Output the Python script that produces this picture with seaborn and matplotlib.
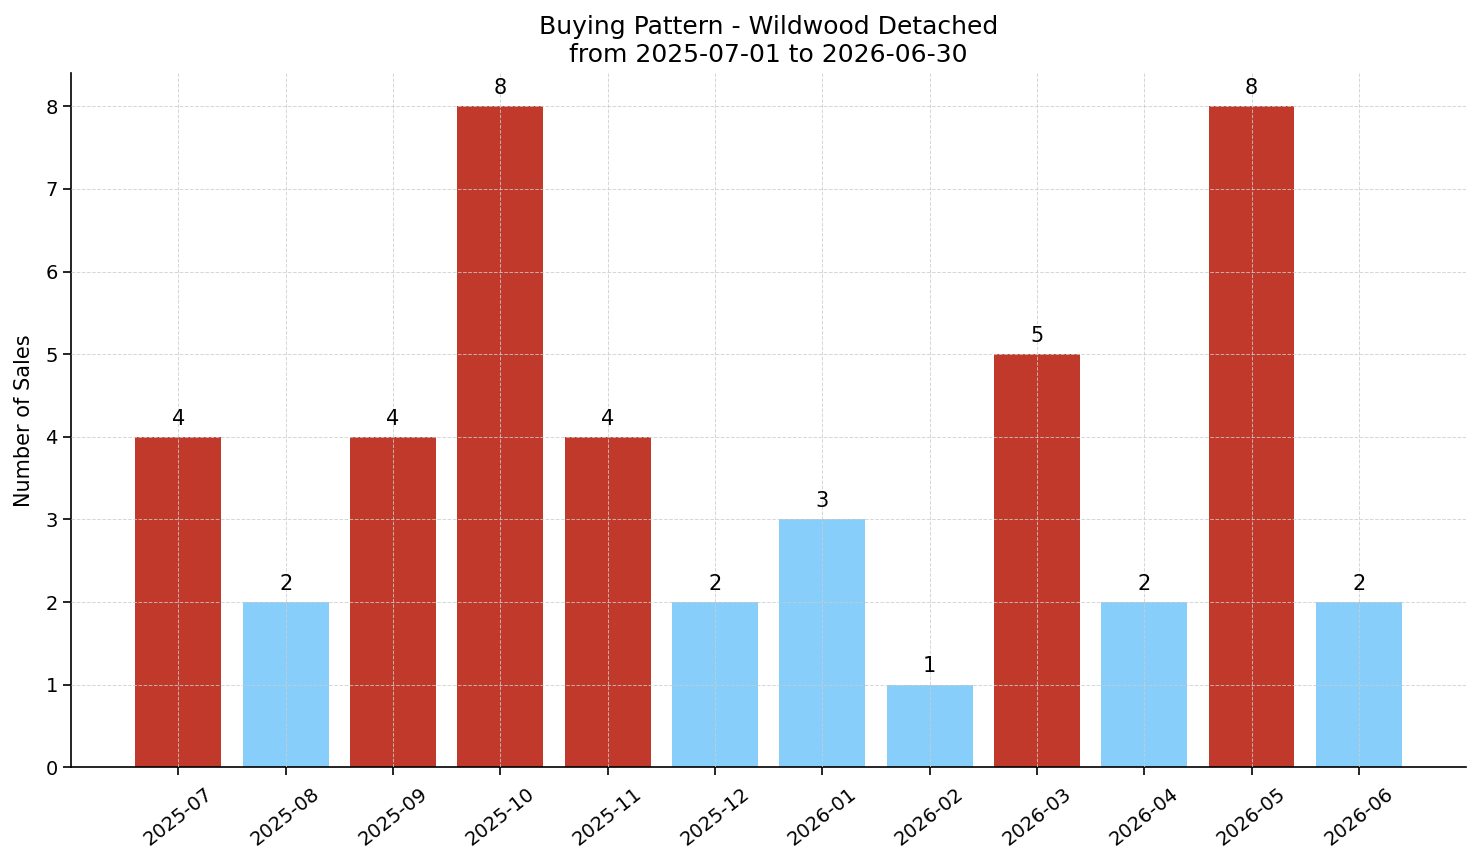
import matplotlib
matplotlib.use("Agg")
import matplotlib.pyplot as plt
import seaborn as sns
import pandas as pd

months = ["2025-07", "2025-08", "2025-09", "2025-10", "2025-11", "2025-12",
          "2026-01", "2026-02", "2026-03", "2026-04", "2026-05", "2026-06"]
sales = [4, 2, 4, 8, 4, 2, 3, 1, 5, 2, 8, 2]

sns.set_style("ticks")
plt.rcParams['font.family'] = ['DejaVu Sans']
plt.rcParams['text.color'] = 'black'
plt.rcParams['axes.labelcolor'] = 'black'
plt.rcParams['xtick.color'] = 'black'
plt.rcParams['ytick.color'] = 'black'
plt.rcParams['axes.edgecolor'] = 'black'

df = pd.DataFrame({"month": months, "sales": sales})
colors = ["#c0392b" if v >= 4 else "#87cefa" for v in sales]

fig, ax = plt.subplots(figsize=(14.81, 8.63), dpi=100)
fig.subplots_adjust(left=0.048, right=0.99, top=0.915, bottom=0.111)

sns.barplot(data=df, x="month", y="sales", hue="month", palette=colors,
            legend=False, width=0.8, saturation=1, linewidth=0, ax=ax)

for i, v in enumerate(sales):
    ax.text(i, v + 0.1, str(v), ha="center", va="bottom", fontsize=15, color="black")

ax.set_xlim(-1, 12)
ax.set_ylim(0, 8.4)
ax.grid(True, linestyle="--", color="#cccccc", alpha=0.8, linewidth=0.7)
ax.set_axisbelow(False)
ax.set_xlabel("")
ax.set_ylabel("Number of Sales", fontsize=15, labelpad=8)
ax.set_title("Buying Pattern - Wildwood Detached\nfrom 2025-07-01 to 2026-06-30",
             fontsize=18, color="black", pad=8)
ax.tick_params(axis="both", labelsize=14, length=6, width=1.2)
ax.tick_params(axis="x", pad=6)
plt.setp(ax.get_xticklabels(), rotation=38)
for s in ["left", "bottom"]:
    ax.spines[s].set_linewidth(1.2)
sns.despine(ax=ax)

plt.savefig("out.png", dpi=100)
